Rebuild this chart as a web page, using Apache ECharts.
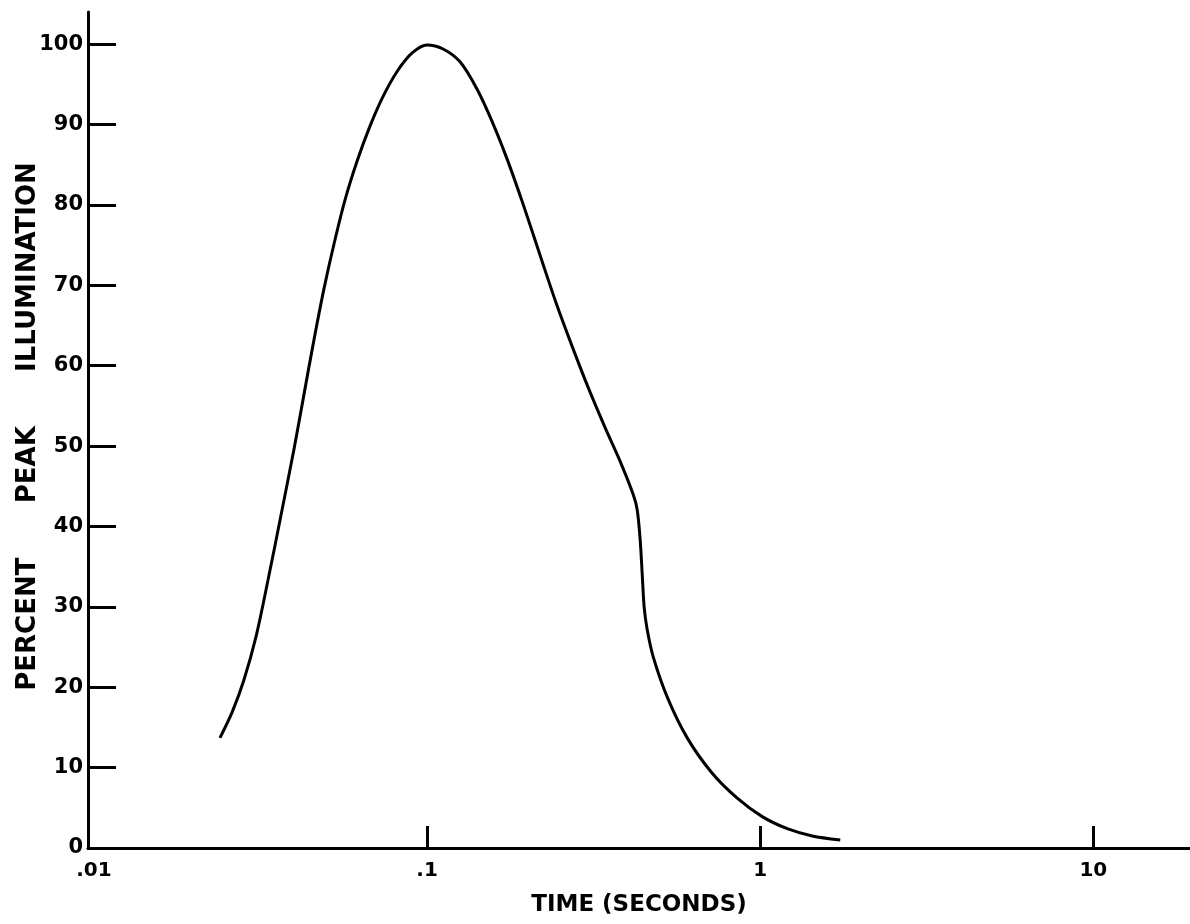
<!DOCTYPE html>
<html>
<head>
<meta charset="utf-8">
<script src="https://cdn.jsdelivr.net/npm/echarts@6/dist/echarts.min.js"></script>
<style>
  html, body { margin: 0; padding: 0; background: #fff; }
  #chart { width: 1190px; height: 924px; }
</style>
</head>
<body>
<div id="chart"></div>
<script>
// ---- data ----
const timeSeconds = [0.0239, 0.0260, 0.0282, 0.0307, 0.0333, 0.0364, 0.0399, 0.0427, 0.0458, 0.0490,
  0.0526, 0.0567, 0.0616, 0.0674, 0.0738, 0.0813, 0.0902, 0.1000, 0.1117, 0.1256,
  0.1413, 0.1567, 0.1739, 0.1942, 0.2185, 0.2440, 0.2726, 0.3044, 0.3423, 0.3798,
  0.4155, 0.4272, 0.4361, 0.4422, 0.4483, 0.4577, 0.4771, 0.5256, 0.6037, 0.7177,
  0.8532, 1.014, 1.205, 1.433, 1.739];
const percentPeak = [13.7, 16.9, 20.9, 26.4, 33.3, 41.3, 49.7, 56.4, 63.3, 69.5,
  75.2, 80.6, 85.4, 89.8, 93.5, 96.6, 98.9, 99.9, 99.4, 97.8,
  94.4, 90.4, 85.7, 80.1, 73.7, 67.8, 62.4, 57.3, 52.3, 48.1,
  44.0, 42.1, 38.4, 34.2, 30.0, 27.2, 23.8, 18.8, 13.7, 9.3,
  6.2, 3.9, 2.4, 1.5, 1.0];
const xTickValues = [0.01, 0.1, 1, 10];
const xTickLabels = ['.01', '.1', '1', '10'];
const yTickValues = [0, 10, 20, 30, 40, 50, 60, 70, 80, 90, 100];
const xTitle = 'TIME (SECONDS)';
const yTitle = 'PERCENT      PEAK      ILLUMINATION';

const seriesData = timeSeconds.map((t, i) => [t, percentPeak[i]]);
// the .01 tick coincides with the vertical axis, so only the others are drawn as marks
const xTickMarks = xTickValues.filter(v => v > xTickValues[0]);

function xLabelFor(v) {
  for (let i = 0; i < xTickValues.length; i++) {
    if (Math.abs(v - xTickValues[i]) / xTickValues[i] < 1e-6) return xTickLabels[i];
  }
  return '';
}

const font = 'DejaVu Sans';
const chart = echarts.init(document.getElementById('chart'), null, { renderer: 'canvas' });
chart.setOption({
  animation: false,
  backgroundColor: '#ffffff',
  grid: { left: 88, right: 0, top: 12, bottom: 76, containLabel: false, outerBoundsMode: 'none' },
  xAxis: {
    type: 'log',
    logBase: 10,
    min: 0.0096,
    max: 19.5,
    name: xTitle,
    nameLocation: 'middle',
    nameGap: 46,
    nameMoveOverlap: false,
    nameTextStyle: { color: '#000', fontFamily: font, fontWeight: 'bold', fontSize: 23 },
    axisLine: { show: true, lineStyle: { color: '#000', width: 3 } },
    axisTick: { show: true, inside: true, length: 22, lineStyle: { color: '#000', width: 3 }, customValues: xTickMarks },
    axisLabel: {
      customValues: xTickValues,
      formatter: v => xLabelFor(v),
      margin: 13,
      color: '#000', fontFamily: font, fontWeight: 'bold', fontSize: 20
    },
    splitLine: { show: false },
    minorTick: { show: false }
  },
  yAxis: {
    type: 'value',
    min: 0,
    max: 104,
    name: yTitle,
    nameLocation: 'middle',
    nameGap: 47,
    nameMoveOverlap: false,
    nameTextStyle: { color: '#000', fontFamily: font, fontWeight: 'bold', fontSize: 26, padding: [0, 0, 0, 7] },
    axisLine: { show: true, lineStyle: { color: '#000', width: 3 } },
    axisTick: { show: true, inside: true, length: 28, lineStyle: { color: '#000', width: 3 }, customValues: yTickValues },
    axisLabel: {
      customValues: yTickValues,
      margin: 5,
      color: '#000', fontFamily: font, fontWeight: 'bold', fontSize: 21
    },
    splitLine: { show: false }
  },
  series: [{
    type: 'line',
    data: seriesData,
    showSymbol: false,
    smooth: 0.3,
    lineStyle: { color: '#000', width: 3 }
  }]
});
</script>
</body>
</html>
